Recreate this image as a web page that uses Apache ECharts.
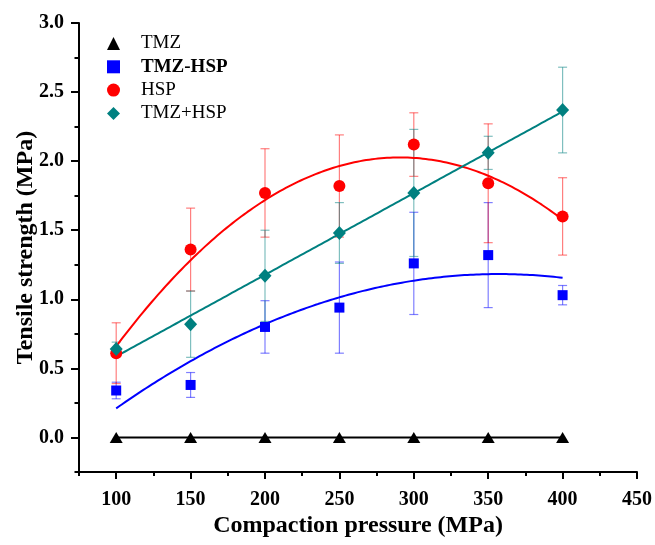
<!DOCTYPE html>
<html><head><meta charset="utf-8">
<script src="https://cdn.jsdelivr.net/npm/echarts@6/dist/echarts.min.js"></script>
<style>html,body{margin:0;padding:0;background:#fff}#c{width:655px;height:545px}</style>
</head><body><div id="c"></div>
<script>
const pressure = [100, 150, 200, 250, 300, 350, 400];
const tmz = [0, 0, 0, 0, 0, 0, 0];
const tmzHsp = [0.34, 0.38, 0.80, 0.94, 1.26, 1.32, 1.03];
const tmzHspErr = [0.06, 0.09, 0.19, 0.33, 0.37, 0.38, 0.07];
const hsp = [0.61, 1.36, 1.77, 1.82, 2.12, 1.84, 1.60];
const hspErr = [0.22, 0.30, 0.32, 0.37, 0.23, 0.43, 0.28];
const tmzPlusHsp = [0.64, 0.82, 1.17, 1.48, 1.77, 2.06, 2.37];
const tmzPlusHspErr = [0.05, 0.24, 0.33, 0.22, 0.46, 0.12, 0.31];
const xMajor = [100, 150, 200, 250, 300, 350, 400, 450];
const xMinor = [75, 125, 175, 225, 275, 325, 375, 425];
const yMajor = [0, 0.5, 1.0, 1.5, 2.0, 2.5, 3.0];
const yMinor = [-0.25, 0.25, 0.75, 1.25, 1.75, 2.25, 2.75];

// least-squares polynomial trend line fitted to the data (as in the original figure)
function polyFit(xs, ys, deg) {
  const n = deg + 1;
  const A = [], B = [];
  for (let i = 0; i < n; i++) {
    A.push([]);
    for (let j = 0; j < n; j++) A[i].push(xs.reduce((s, x) => s + Math.pow(x, i + j), 0));
    B.push(xs.reduce((s, x, k) => s + ys[k] * Math.pow(x, i), 0));
  }
  for (let i = 0; i < n; i++) {
    for (let k = i + 1; k < n; k++) {
      const f = A[k][i] / A[i][i];
      for (let j = i; j < n; j++) A[k][j] -= f * A[i][j];
      B[k] -= f * B[i];
    }
  }
  const c = new Array(n).fill(0);
  for (let i = n - 1; i >= 0; i--) {
    let s = B[i];
    for (let j = i + 1; j < n; j++) s -= A[i][j] * c[j];
    c[i] = s / A[i][i];
  }
  return c;
}
function trend(ys, deg) {
  const ts = pressure.map(p => (p - 250) / 50);
  const c = polyFit(ts, ys, deg);
  const out = [];
  for (let p = pressure[0]; p <= pressure[pressure.length - 1]; p += 2) {
    const t = (p - 250) / 50;
    let v = 0;
    for (let i = 0; i < c.length; i++) v += c[i] * Math.pow(t, i);
    out.push([p, v]);
  }
  return out;
}
const pairs = ys => pressure.map((p, i) => [p, ys[i]]);
const errs = (ys, es) => pressure.map((p, i) => [p, ys[i] - es[i], ys[i] + es[i]]);

function errSeries(ys, es, color) {
  return {
    type: 'custom', silent: true, z: 2,
    data: errs(ys, es),
    encode: { x: 0, y: [1, 2] },
    renderItem: function (params, api) {
      const x = api.value(0), lo = api.value(1), hi = api.value(2);
      const a = api.coord([x, hi]), b = api.coord([x, lo]);
      const w = 4.5;
      const st = { stroke: color, lineWidth: 1.2 };
      return { type: 'group', children: [
        { type: 'line', shape: { x1: a[0], y1: a[1], x2: b[0], y2: b[1] }, style: st },
        { type: 'line', shape: { x1: a[0] - w, y1: a[1], x2: a[0] + w, y2: a[1] }, style: st },
        { type: 'line', shape: { x1: b[0] - w, y1: b[1], x2: b[0] + w, y2: b[1] }, style: st }
      ]};
    }
  };
}

const FONT = 'Liberation Serif';
const chart = echarts.init(document.getElementById('c'));
chart.setOption({
  animation: false,
  backgroundColor: '#fff',
  grid: { left: 79, top: 23, width: 558, height: 449 },
  legend: {
    orient: 'vertical', left: 102, top: 29, itemWidth: 13, itemHeight: 13, itemGap: 4.3,
    selectedMode: false,
    textStyle: { fontFamily: FONT, fontSize: 19, color: '#000', padding: [0, 0, 0, 16],
      rich: { b: { fontFamily: FONT, fontSize: 19, fontWeight: 'bold', color: '#000' } } },
    formatter: n => n === 'TMZ-HSP' ? '{b|' + n + '}' : n,
    data: [
      { name: 'TMZ', icon: 'triangle', itemStyle: { color: '#000' } },
      { name: 'TMZ-HSP', icon: 'rect', itemStyle: { color: '#0000ff' } },
      { name: 'HSP', icon: 'circle', itemStyle: { color: '#ff0000' } },
      { name: 'TMZ+HSP', icon: 'diamond', itemStyle: { color: '#008080' } }
    ]
  },
  xAxis: [{
    type: 'value', min: 75, max: 450,
    name: 'Compaction pressure (MPa)', nameLocation: 'middle', nameGap: 42, nameMoveOverlap: false,
    nameTextStyle: { fontFamily: FONT, fontSize: 24, fontWeight: 'bold', color: '#000' },
    axisLine: { show: true, onZero: false, lineStyle: { color: '#000', width: 2 } },
    axisTick: { show: true, length: 7, customValues: xMajor, lineStyle: { color: '#000', width: 2 } },
    axisLabel: { customValues: xMajor, margin: 18, fontFamily: FONT, fontSize: 20, fontWeight: 'bold', color: '#000' },
    splitLine: { show: false }
  }, {
    type: 'value', min: 75, max: 450, position: 'bottom',
    axisLine: { show: false, onZero: false },
    axisTick: { show: true, length: 4, customValues: xMinor, lineStyle: { color: '#000', width: 2 } },
    axisLabel: { show: false }, splitLine: { show: false }
  }],
  yAxis: [{
    type: 'value', min: -0.25, max: 3.0,
    name: 'Tensile strength (MPa)', nameLocation: 'middle', nameGap: 41, nameMoveOverlap: false,
    nameTextStyle: { fontFamily: FONT, fontSize: 24, fontWeight: 'bold', color: '#000' },
    axisLine: { show: true, onZero: false, lineStyle: { color: '#000', width: 2 } },
    axisTick: { show: true, length: 8, customValues: yMajor, lineStyle: { color: '#000', width: 2 } },
    axisLabel: { customValues: yMajor, margin: 15, fontFamily: FONT, fontSize: 20, fontWeight: 'bold', color: '#000',
      formatter: v => v.toFixed(1) },
    splitLine: { show: false }
  }, {
    type: 'value', min: -0.25, max: 3.0, position: 'left',
    axisLine: { show: false, onZero: false },
    axisTick: { show: true, length: 4.5, customValues: yMinor, lineStyle: { color: '#000', width: 2 } },
    axisLabel: { show: false }, splitLine: { show: false }
  }],
  series: [
    errSeries(tmzHsp, tmzHspErr, 'rgba(0,0,255,0.5)'),
    errSeries(hsp, hspErr, 'rgba(255,0,0,0.5)'),
    errSeries(tmzPlusHsp, tmzPlusHspErr, 'rgba(0,128,128,0.5)'),
    { name: 'TMZ-HSP fit', type: 'line', data: trend(tmzHsp, 2), showSymbol: false, z: 3,
      lineStyle: { color: '#0000ff', width: 2 }, silent: true },
    { name: 'HSP fit', type: 'line', data: trend(hsp, 2), showSymbol: false, z: 3,
      lineStyle: { color: '#ff0000', width: 2 }, silent: true },
    { name: 'TMZ+HSP fit', type: 'line', data: trend(tmzPlusHsp, 1), showSymbol: false, z: 3,
      lineStyle: { color: '#008080', width: 2 }, silent: true },
    { name: 'TMZ', type: 'line', data: pairs(tmz), symbol: 'triangle', symbolSize: [13, 11], z: 4,
      itemStyle: { color: '#000', opacity: 1 }, lineStyle: { color: '#000', width: 2 } },
    { name: 'TMZ-HSP', type: 'scatter', data: pairs(tmzHsp), symbol: 'rect', symbolSize: 10, z: 5,
      itemStyle: { color: '#0000ff', opacity: 1 } },
    { name: 'HSP', type: 'scatter', data: pairs(hsp), symbol: 'circle', symbolSize: 12, z: 5,
      itemStyle: { color: '#ff0000', opacity: 1 } },
    { name: 'TMZ+HSP', type: 'scatter', data: pairs(tmzPlusHsp), symbol: 'diamond', symbolSize: [13, 14], z: 5,
      itemStyle: { color: '#008080', opacity: 1 } }
  ]
});
</script></body></html>
